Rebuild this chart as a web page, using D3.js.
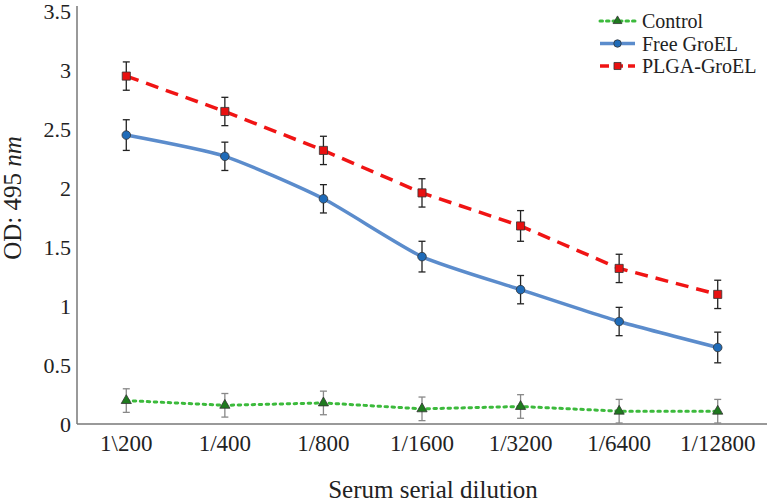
<!DOCTYPE html>
<html lang="en">
<head>
<meta charset="UTF-8">
<title>OD 495 nm vs serum dilution</title>
<script src="https://cdn.jsdelivr.net/npm/d3@7"></script>
<style>
  body { margin: 0; background: #fff; }
  text { font-family: "Liberation Serif", "Times New Roman", serif; fill: #222; }
</style>
</head>
<body>
<script>
var dilutions = ["1\\200", "1/400", "1/800", "1/1600", "1/3200", "1/6400", "1/12800"];
var control = [0.19, 0.15, 0.17, 0.12, 0.14, 0.10, 0.10];
var controlErr = [0.10, 0.10, 0.10, 0.10, 0.10, 0.10, 0.10];
var freeGroEL = [2.44, 2.26, 1.90, 1.41, 1.13, 0.86, 0.64];
var freeErr = [0.13, 0.12, 0.12, 0.13, 0.12, 0.12, 0.13];
var plgaGroEL = [2.94, 2.64, 2.31, 1.95, 1.67, 1.31, 1.09];
var plgaErr = [0.12, 0.12, 0.12, 0.12, 0.13, 0.12, 0.12];
var yTicks = [0, 0.5, 1, 1.5, 2, 2.5, 3, 3.5];

var W = 767, H = 504;
var plotL = 77, plotR = 767, plotT = 10, plotB = 423;

var svg = d3.select("body").append("svg").attr("width", W).attr("height", H);

var x = d3.scaleBand().domain(dilutions).range([plotL, plotR]);
var y = d3.scaleLinear().domain([0, 3.5]).range([plotB, plotT]);
var cx = function (d) { return x(d) + x.bandwidth() / 2; };

// axes (no tick marks, grey lines)
svg.append("line").attr("x1", plotL).attr("x2", plotL).attr("y1", 6).attr("y2", plotB + 1)
    .attr("stroke", "#777").attr("stroke-width", 1.5);
svg.append("line").attr("x1", plotL).attr("x2", plotR).attr("y1", plotB + 1).attr("y2", plotB + 1)
    .attr("stroke", "#777").attr("stroke-width", 1.5);

svg.selectAll(".ytick").data(yTicks).enter().append("text")
    .attr("x", 71).attr("y", function (d) { return y(d) + 1; })
    .attr("dy", "0.35em").attr("text-anchor", "end").attr("font-size", "22px")
    .text(function (d) { return d; });

svg.selectAll(".xtick").data(dilutions).enter().append("text")
    .attr("x", cx).attr("y", 451)
    .attr("text-anchor", "middle").attr("font-size", "23px")
    .text(function (d) { return d; });

svg.append("text").attr("x", 433).attr("y", 498).attr("text-anchor", "middle")
    .attr("font-size", "25px").text("Serum serial dilution");

var yt = svg.append("text").attr("transform", "translate(21,198) rotate(-90)")
    .attr("text-anchor", "middle").attr("font-size", "25px");
yt.append("tspan").text("OD: 495 ");
yt.append("tspan").attr("font-style", "italic").text("nm");

var series = [
  {name: "Control", vals: control, err: controlErr,
   line: "#3cba3c", dash: "2.5,4.5", legDash: "2.5,4", cap: "round", width: 3, curve: d3.curveLinear,
   fill: "#1e7a1e", errColor: "#888", shape: d3.symbolTriangle, size: 45},
  {name: "Free GroEL", vals: freeGroEL, err: freeErr,
   line: "#5b8ccc", dash: null, legDash: null, cap: "butt", width: 3.5, curve: d3.curveCardinal.tension(0.4),
   fill: "#1f6bb8", errColor: "#222", shape: d3.symbolCircle, size: 58},
  {name: "PLGA-GroEL", vals: plgaGroEL, err: plgaErr,
   line: "#f01414", dash: "13,8", legDash: "9,5", cap: "butt", width: 3.5, curve: d3.curveLinear,
   fill: "#e81010", errColor: "#222", shape: d3.symbolSquare, size: 66}
];

series.forEach(function (s) {
  var pts = dilutions.map(function (d, i) { return {d: d, v: s.vals[i], e: s.err[i]}; });
  var g = svg.append("g");
  g.append("path").datum(pts)
      .attr("d", d3.line().x(function (p) { return cx(p.d); }).y(function (p) { return y(p.v); }).curve(s.curve))
      .attr("fill", "none").attr("stroke", s.line).attr("stroke-width", s.width)
      .attr("stroke-dasharray", s.dash).attr("stroke-linecap", s.cap);
  var eb = g.selectAll(".eb").data(pts).enter().append("g")
      .attr("stroke", s.errColor).attr("stroke-width", 1.3);
  eb.append("line").attr("x1", function (p) { return cx(p.d); }).attr("x2", function (p) { return cx(p.d); })
      .attr("y1", function (p) { return y(p.v + p.e); }).attr("y2", function (p) { return y(p.v - p.e); });
  eb.append("line").attr("x1", function (p) { return cx(p.d) - 3.5; }).attr("x2", function (p) { return cx(p.d) + 3.5; })
      .attr("y1", function (p) { return y(p.v + p.e); }).attr("y2", function (p) { return y(p.v + p.e); });
  eb.append("line").attr("x1", function (p) { return cx(p.d) - 3.5; }).attr("x2", function (p) { return cx(p.d) + 3.5; })
      .attr("y1", function (p) { return y(p.v - p.e); }).attr("y2", function (p) { return y(p.v - p.e); });
  g.selectAll(".mk").data(pts).enter().append("path")
      .attr("d", d3.symbol().type(s.shape).size(s.size))
      .attr("transform", function (p) { return "translate(" + cx(p.d) + "," + y(p.v) + ")"; })
      .attr("fill", s.fill).attr("stroke", "#333").attr("stroke-width", 0.8);
});

// legend
var leg = svg.selectAll(".leg").data(series).enter().append("g")
    .attr("transform", function (s, i) { return "translate(600," + (21 + i * 22.5) + ")"; });
leg.append("line").attr("x1", 0).attr("x2", 35).attr("y1", 0).attr("y2", 0)
    .attr("stroke", function (s) { return s.line; }).attr("stroke-width", function (s) { return s.width; })
    .attr("stroke-dasharray", function (s) { return s.legDash; })
    .attr("stroke-linecap", function (s) { return s.cap; });
leg.append("path").attr("d", function (s) { return d3.symbol().type(s.shape).size(s.size * 0.75)(); })
    .attr("transform", "translate(17.5,0)")
    .attr("fill", function (s) { return s.fill; }).attr("stroke", "#333").attr("stroke-width", 0.8);
leg.append("text").attr("x", 42).attr("dy", "0.35em").attr("font-size", "20px")
    .text(function (s) { return s.name; });
</script>
</body>
</html>
